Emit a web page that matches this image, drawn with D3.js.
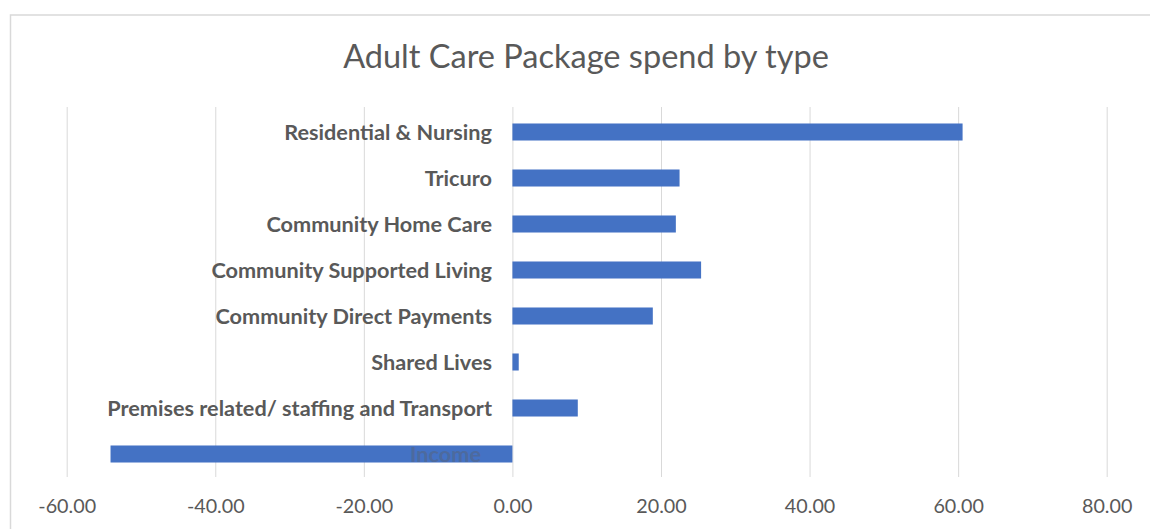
<!DOCTYPE html>
<html><head><meta charset="utf-8">
<script src="https://cdn.jsdelivr.net/npm/d3@7"></script>
<style>body{margin:0;background:#fff;} svg{display:block;}</style>
</head><body><svg id="c" width="1150" height="529"></svg>
<script>
const categories = ["Residential & Nursing","Tricuro","Community Home Care","Community Supported Living","Community Direct Payments","Shared Lives","Premises related/ staffing and Transport","Income"];
const values = [60.6, 22.5, 22.0, 25.4, 18.9, 0.85, 8.8, -54.1];
const tickValues = [-60, -40, -20, 0, 20, 40, 60, 80];
const title = "Adult Care Package spend by type";

const svg = d3.select("#c");
const W = 1150, H = 529;
const plot = {left: 66.7, right: 1106.7, top: 109, bottom: 477};
const x = d3.scaleLinear().domain([-60, 80]).range([plot.left, plot.right]);
const y = d3.scaleBand().domain(categories).range([plot.top, plot.bottom]).paddingInner(0.63).paddingOuter(0.315);

// chart border
svg.append("rect").attr("x", 10.5).attr("y", 15).attr("width", W + 10).attr("height", H + 10)
  .attr("fill", "#fff").attr("stroke", "#d9d9d9").attr("stroke-width", 1.5);

function fit(sel, str, target, base) {
  const t = svg.append("text").attr("font-family", sel.family).attr("font-weight", sel.weight).attr("font-size", base).text(str);
  const w = t.node().getComputedTextLength(); t.remove();
  return base * target / w;
}

// title
const titleSize = fit({family: "Lato", weight: 400}, title, 486, 28);
svg.append("text").attr("x", 586).attr("y", 68).attr("text-anchor", "middle")
  .attr("font-family", "Lato").attr("font-size", titleSize).attr("fill", "#595959").text(title);

// gridlines + tick labels
const fmt = d => d3.format(".2f")(d).replace("\u2212", "-");
const xAxis = d3.axisBottom(x).tickValues(tickValues).tickFormat(fmt).tickSize(-(plot.bottom - 107)).tickPadding(0);
const g = svg.append("g").attr("transform", `translate(0,${plot.bottom})`).call(xAxis);
g.select(".domain").remove();
g.selectAll(".tick line").attr("stroke", "#d9d9d9");
const tickSize = fit({family: "Lato", weight: 400}, "0.00", 39, 18);
g.selectAll(".tick text").attr("font-family", "Lato").attr("font-size", tickSize).attr("fill", "#595959").attr("dy", null).attr("y", 36);

// bars
svg.append("g").selectAll("rect").data(categories).join("rect")
  .attr("x", (d, i) => x(Math.min(0, values[i])))
  .attr("width", (d, i) => Math.abs(x(values[i]) - x(0)))
  .attr("y", d => y(d)).attr("height", y.bandwidth())
  .attr("fill", "#4472C4");

// category labels
const labSize = fit({family: "Lato", weight: 700}, categories[6], 385, 18);
svg.append("g").selectAll("text").data(categories).join("text")
  .attr("x", (d, i) => values[i] < 0 ? 481 : 492)
  .attr("y", d => y(d) + y.bandwidth() / 2).attr("dy", "0.35em")
  .attr("text-anchor", "end").attr("font-family", "Lato").attr("font-weight", 700)
  .attr("font-size", labSize).attr("fill", (d, i) => values[i] < 0 ? "#4d6a9e" : "#595959").text(d => d);
</script></body></html>
